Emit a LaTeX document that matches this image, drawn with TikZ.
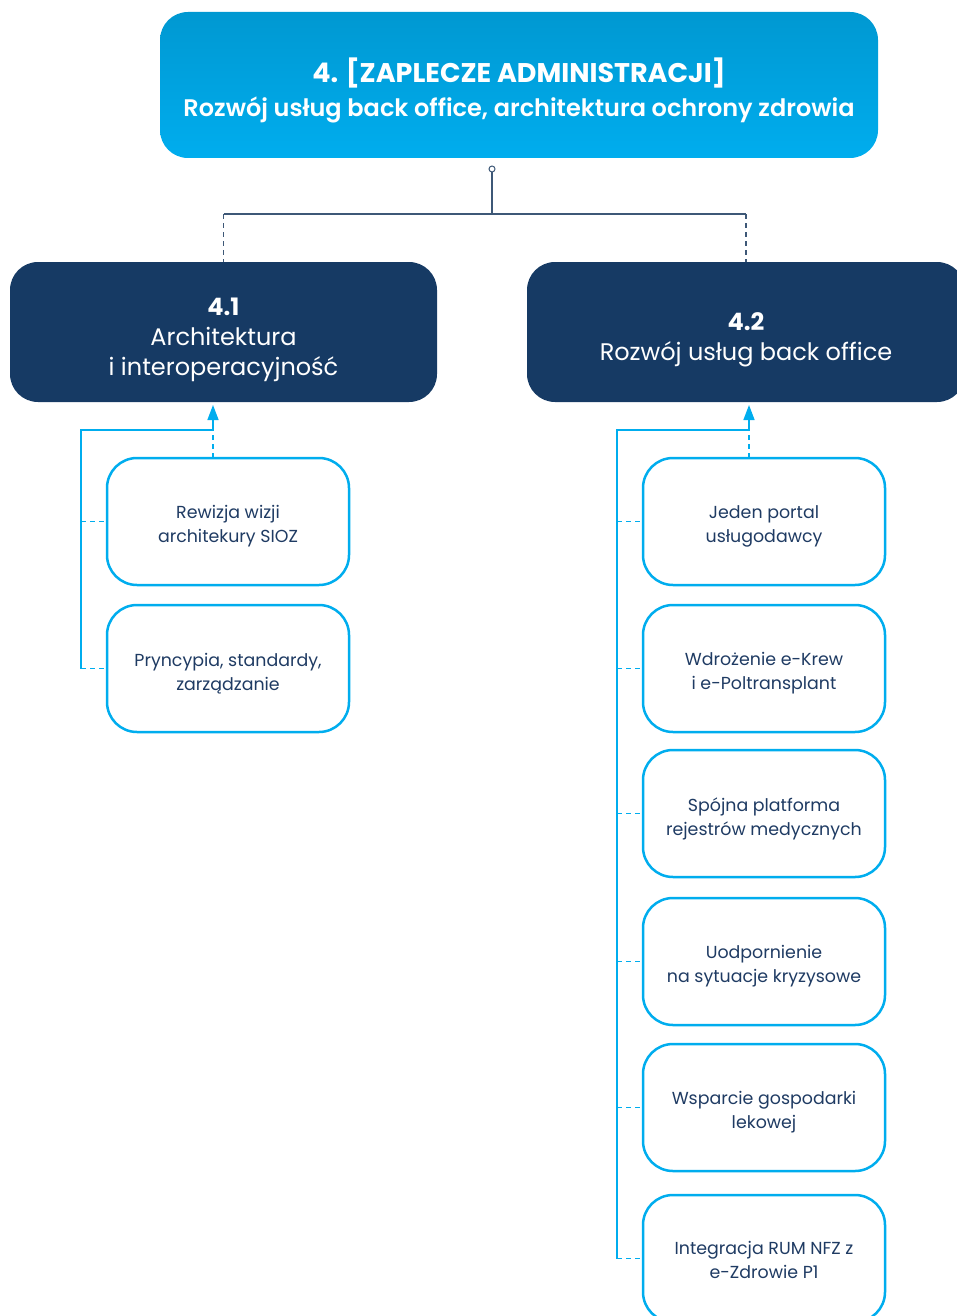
\documentclass[tikz,border=0pt]{standalone}
\usepackage{fontspec}
\setmainfont{Poppins}
\newfontfamily\semibold{Poppins SemiBold}
\usetikzlibrary{arrows.meta}

\definecolor{cyanbox}{HTML}{00ADEE}
\definecolor{navybox}{HTML}{163A64}
\definecolor{navytext}{HTML}{1F3B63}
\definecolor{treeline}{HTML}{3E5877}

\begin{document}
\begin{tikzpicture}[x=1pt,y=-1pt,inner sep=0pt,outer sep=0pt,
mainbox/.style={rounded corners=28pt,minimum width=718pt,minimum height=146pt,top color=cyanbox!88!black,middle color=cyanbox,bottom color=cyanbox},
secbox/.style={rounded corners=28pt,minimum height=140pt,fill=navybox},
taskbox/.style={draw=cyanbox,line width=2.5pt,rounded corners=30pt,minimum width=242pt,minimum height=127pt,fill=white},
maintext/.style={text=white,align=center},
sectext/.style={text=white,align=center,font=\fontsize{24}{30}\selectfont},
tasktext/.style={text=navytext,align=center,font=\fontsize{17.4}{24}\selectfont},
tree/.style={draw=treeline,line width=1.5pt},
link/.style={draw=cyanbox,line width=1.5pt},
dashline/.style={dash pattern=on 5pt off 4pt}]

\clip (0,0) rectangle (957,1316);

\draw (519,85) node[mainbox] (top) {};
\node[maintext] (toptext) at ([yshift=-5.5pt]top.center) {{\bfseries\fontsize{27}{36}\selectfont 4. [ZAPLECZE ADMINISTRACJI]}\\[7pt]
  {\semibold\fontsize{24}{30}\selectfont Rozwój usług back office, architektura ochrony zdrowia}};

\draw (223.5,332) node[secbox,minimum width=427pt] (sec41) {};
\draw (746,332) node[secbox,minimum width=438pt] (sec42) {};
\node[sectext] (sec41text) at ([yshift=-8pt]sec41.center) {\textbf{4.1}\\Architektura\\i interoperacyjność};
\node[sectext] (sec42text) at ([yshift=-8pt]sec42.center) {\textbf{4.2}\\Rozwój usług back office};

% left column
\draw (228,521.5) node[taskbox] (l1) {};
\draw (228,668.5) node[taskbox] (l2) {};
\node[tasktext] (l1text) at ([yshift=-5pt]l1.center) {Rewizja wizji\\architekury SIOZ};
\node[tasktext] (l2text) at ([yshift=-5pt]l2.center) {Pryncypia, standardy,\\zarządzanie};

% right column
\draw (764,521.5) node[taskbox] (r1) {};
\draw (764,668.5) node[taskbox] (r2) {};
\draw (764,813.5) node[taskbox] (r3) {};
\draw (764,961.5) node[taskbox] (r4) {};
\draw (764,1107.5) node[taskbox] (r5) {};
\draw (764,1258.5) node[taskbox] (r6) {};
\node[tasktext] (r1text) at ([yshift=-5pt]r1.center) {Jeden portal\\usługodawcy};
\node[tasktext] (r2text) at ([yshift=-5pt]r2.center) {Wdrożenie e-Krew\\i e-Poltransplant};
\node[tasktext] (r3text) at ([yshift=-5pt]r3.center) {Spójna platforma\\rejestrów medycznych};
\node[tasktext] (r4text) at ([yshift=-5pt]r4.center) {Uodpornienie\\na sytuacje kryzysowe};
\node[tasktext] (r5text) at ([yshift=-5pt]r5.center) {Wsparcie gospodarki\\lekowej};
\node[tasktext] (r6text) at ([yshift=-1pt]r6.center) {Integracja RUM NFZ z\\e-Zdrowie P1};

% fork under the title
\node[circle,draw=treeline,line width=1pt,minimum size=6pt] (hub) at (492,169) {};
\coordinate (fork) at (492,214);
\draw[tree] (hub) -- (fork);
\draw[tree] (sec41.north |- fork) -- (sec42.north |- fork);
\draw[tree,dashline] (sec41.north |- fork) -- (sec41.north);
\draw[tree,dashline] (sec42.north |- fork) -- (sec42.north);

% links into 4.1
\coordinate (jl) at (213,430);
\coordinate (spl) at (81,430);
\draw[link,dashline] (l1.north -| jl) -- (jl);
\draw[link,-{Triangle[length=15pt,width=11pt]},shorten >=3pt] (jl) -- (jl |- sec41.south);
\draw[link] (jl) -- (spl) -- (spl |- l2.west);
\foreach \n in {1,2}
  \draw[link,dashline] (spl |- l\n.west) -- (l\n.west);

% links into 4.2
\coordinate (jr) at (749,430);
\coordinate (spr) at (617,430);
\draw[link,dashline] (r1.north -| jr) -- (jr);
\draw[link,-{Triangle[length=15pt,width=11pt]},shorten >=3pt] (jr) -- (jr |- sec42.south);
\draw[link] (jr) -- (spr) -- (spr |- r6.west);
\foreach \n in {1,...,6}
  \draw[link,dashline] (spr |- r\n.west) -- (r\n.west);
\end{tikzpicture}
\end{document}
